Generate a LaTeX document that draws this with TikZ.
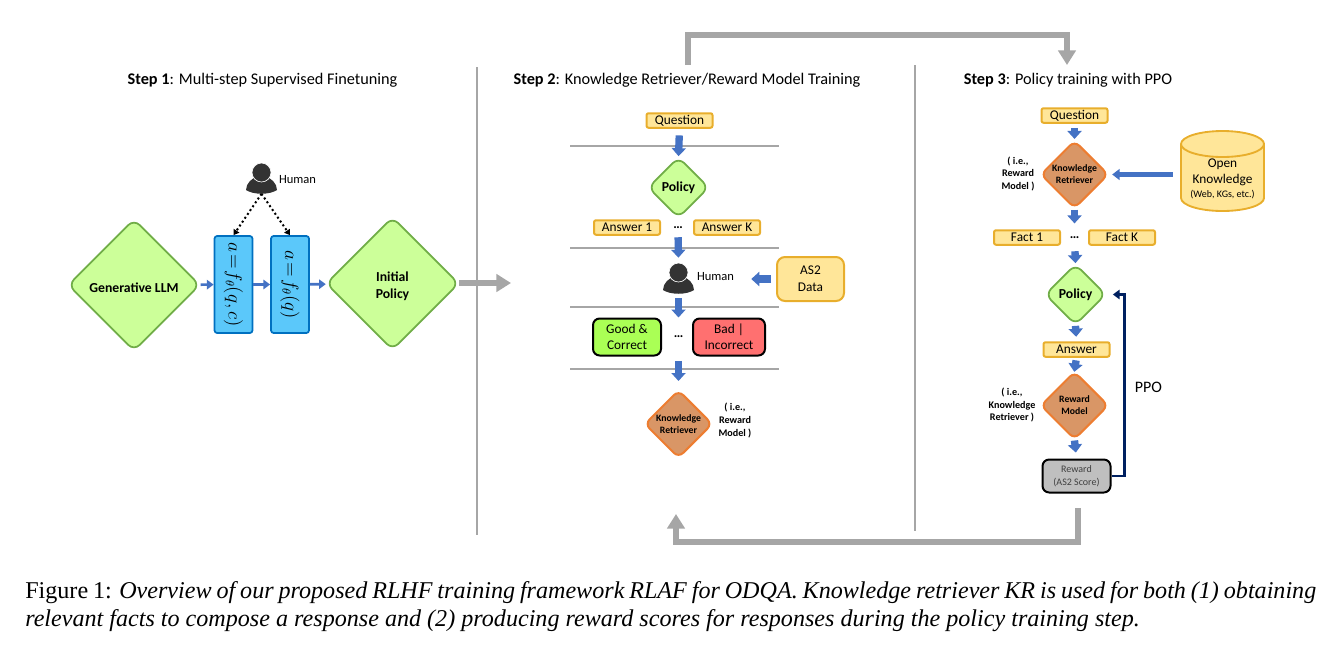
\documentclass[tikz,border=0pt]{standalone}
\usepackage{amsmath}
\usepackage{fontspec}
\setmainfont{Carlito}
\newfontfamily\capfont{Liberation Serif}
\usetikzlibrary{arrows.meta,shapes.geometric}
\def\px{0.75pt}
\definecolor{boxfill}{HTML}{FFE699}
\definecolor{boxline}{HTML}{E8AE2C}
\definecolor{leaffill}{HTML}{CCFF99}
\definecolor{leafline}{HTML}{70AD47}
\definecolor{skyfill}{HTML}{5BC8FA}
\definecolor{skyline}{HTML}{0070C0}
\definecolor{krfill}{HTML}{D99666}
\definecolor{krline}{HTML}{ED7D31}
\definecolor{flow}{HTML}{4472C4}
\definecolor{rule}{HTML}{A6A6A6}
\definecolor{navy}{HTML}{002060}
\definecolor{icon}{HTML}{333333}
\definecolor{goodfill}{HTML}{AAFF55}
\definecolor{badfill}{HTML}{FF7070}
\tikzset{
  x=\px,y=-\px,
  flatbox/.style={draw=boxline,fill=boxfill,line width=1.5pt,rounded corners=1.5pt,minimum width=66*\px,minimum height=14.5*\px,inner sep=0pt,text height=7.5pt,text depth=1.5pt,font=\fontsize{10}{10}\selectfont},
  tallbox/.style={draw=black,line width=1.5pt,rounded corners=5pt,minimum height=37*\px,inner sep=0pt,align=center,font=\fontsize{10}{12}\selectfont},
  leaf/.style={diamond,draw=leafline,fill=leaffill,line width=1.3pt,rounded corners=6pt,inner sep=0pt,align=center,font=\bfseries\fontsize{10.3}{13}\selectfont},
  krnode/.style={diamond,draw=krline,fill=krfill,line width=1.5pt,rounded corners=5pt,minimum width=68*\px,minimum height=68*\px,inner sep=0pt,align=center,font=\bfseries\fontsize{7.3}{9}\selectfont,execute at begin node={\rule{0pt}{8.5pt}}},
  skybox/.style={rotate=-90,draw=skyline,fill=skyfill,line width=1.3pt,rounded corners=2pt,minimum width=97*\px,minimum height=38*\px,inner sep=0pt,font=\fontsize{13.5}{13.5}\selectfont},
  flowstep/.style={draw=flow,line width=5.5pt,-{Triangle[length=6pt,width=10.5pt]}},
  slimstep/.style={draw=flow,line width=3.8pt,-{Triangle[length=5.5pt,width=8pt]}},
  thinflow/.style={draw=flow,line width=2pt,-{Triangle[length=5pt,width=7pt]}},
  dotflow/.style={line width=1.5pt,dotted,-{Triangle[length=4pt,width=5pt]}},
  greyarrow/.style={draw=rule,line width=3.8pt,-{Triangle[length=11pt,width=13pt]}},
  divider/.style={draw=rule,line width=1.5pt},
  note/.style={align=center,inner sep=0pt,font=\bfseries\fontsize{7.6}{9.4}\selectfont},
  dotsmark/.style={inner sep=0pt,font=\bfseries\fontsize{10}{10}\selectfont},
  humanmark/.style={minimum width=32*\px,minimum height=31*\px,inner sep=0pt},
  humanicon/.pic={
    \fill[icon] (-15.5,12) .. controls (-15.5,5) and (-9,0) .. (-5,-1) -- (5,-1) .. controls (9,0) and (15.5,5) .. (15.5,12) .. controls (8,17) and (-8,17) .. (-15.5,12) -- cycle;
    \draw[white,fill=icon,line width=0.5pt] (0,-5.5) circle[radius=9.5];
  },
}
\begin{document}
\begin{tikzpicture}
\useasboundingbox (0,0) rectangle (1338,650);

\node[font=\fontsize{12.2}{12.2}\selectfont] (step1) at (262.5,80) {\textbf{Step 1}: Multi-step Supervised Finetuning};
\node[font=\fontsize{12.2}{12.2}\selectfont] (step2) at (687,80) {\textbf{Step 2}: Knowledge Retriever/Reward Model Training};
\node[font=\fontsize{12.2}{12.2}\selectfont] (step3) at (1068,80) {\textbf{Step 3}: Policy training with PPO};

\draw[divider] (477,67) -- (477,535);
\draw[divider] (915,65) -- (915,531);

\node[leaf,minimum width=132*\px,minimum height=132*\px] (llm) at (134,285) {\rule{0pt}{11pt}Generative LLM};
\node[skybox] (rect1) at (233.5,284.5) {$a\!=\!f_\theta(q,c)$};
\node[skybox] (rect2) at (290,284.5) {$a\!=\!f_\theta(q)$};
\node[leaf,minimum width=133*\px,minimum height=133*\px] (init) at (392.5,283.5) {\rule{0pt}{11pt}Initial\\Policy};
\node[humanmark] (human1) at (261.5,178) {};
\pic at (human1) {humanicon};
\node[font=\fontsize{9.4}{9.4}\selectfont,inner sep=0pt] (humantxt1) at (297.5,180) {Human};
\draw[thinflow] (llm) -- (rect1);
\draw[thinflow] (rect1) -- (rect2);
\draw[thinflow] (rect2) -- (init);
\draw[dotflow] (human1.south) -- (rect1.west);
\draw[dotflow] (human1.south) -- (rect2.west);
\coordinate (g1) at (459,283);
\coordinate (g2) at (511,283);
\draw[greyarrow] (g1) -- (g2);

\coordinate (t1) at (688,65);
\coordinate (t2) at (1067,65);
\draw[greyarrow] (t1) -- ++(0,-30) -| (t2);
\coordinate (b1) at (1078,508);
\coordinate (b2) at (676,514);
\draw[greyarrow] (b1) -- ++(0,34) -| (b2);

\node[flatbox] (q2) at (679.5,120.5) {Question};
\node[leaf,minimum width=61*\px,minimum height=61*\px] (policy2) at (678.5,187.5) {Policy};
\node[flatbox] (ans1) at (627,227.5) {Answer 1};
\node[dotsmark] (adots) at (678,228) {…};
\node[flatbox] (ansk) at (727,227.5) {Answer K};
\node[humanmark] (human2) at (678.5,278) {};
\pic at (human2) {humanicon};
\node[font=\fontsize{9.4}{9.4}\selectfont,inner sep=0pt] (humantxt2) at (715.5,277) {Human};
\node[draw=boxline,fill=boxfill,line width=1.5pt,rounded corners=6pt,minimum width=67*\px,minimum height=44*\px,inner sep=0pt,align=center,font=\fontsize{10}{12.5}\selectfont] (as2) at (810.5,279) {AS2\\Data};
\node[tallbox,fill=goodfill,minimum width=68*\px] (good) at (627,337) {Good \&\\Correct};
\node[dotsmark] (vdots) at (678.5,337) {…};
\node[tallbox,fill=badfill,minimum width=72*\px] (bad) at (729,337) {Bad |\\Incorrect};
\node[krnode] (kr2) at (678.5,424) {Knowledge\\Retriever};
\node[note] (note2) at (735,420.5) {( i.e.,\\Reward\\Model )};
\foreach \ya in {146,248,307,369}
  \draw[divider] (570,\ya) -- (779,\ya);
\draw[flowstep,shorten <=5pt] (q2.south) -- (policy2.north);
\draw[flowstep,shorten <=6pt,shorten >=3.4pt] (adots.south) -- (human2.north);
\draw[flowstep,shorten <=3.4pt] (human2.south) -- (human2.south |- good.north);
\draw[flowstep,shorten <=17pt,shorten >=6pt] (vdots.south) -- (kr2.north);
\draw[flowstep,shorten <=3.75pt,shorten >=12.75pt] (as2.west) -- (as2.west -| humantxt2.east);

\node[flatbox] (q3) at (1074.5,115.5) {Question};
\node[krnode] (kr3) at (1074.5,174.5) {Knowledge\\Retriever};
\node[note] (note3a) at (1018,174) {( i.e.,\\Reward\\Model )};
\node[minimum width=83*\px,minimum height=80*\px,inner sep=0pt] (okb) at (1222.5,171) {};
\fill[boxfill] (1181,144) arc[start angle=180,end angle=360,x radius=41.5,y radius=13] -- (1264,198) arc[start angle=0,end angle=180,x radius=41.5,y radius=13] -- cycle;
\draw[boxline,line width=1.4pt] (1222.5,144) ellipse[x radius=41.5,y radius=13];
\draw[boxline,line width=1.4pt] (1181,144) -- (1181,198) arc[start angle=180,end angle=0,x radius=41.5,y radius=13] -- (1264,144);
\node[align=center,inner sep=0pt,font=\fontsize{10}{12}\selectfont] (okbtxt) at (1222.5,179) {Open\\Knowledge\\[-1pt]{\fontsize{7.5}{9}\selectfont (Web, KGs, etc.)}};
\node[flatbox] (fact1) at (1027,237.5) {Fact 1};
\node[dotsmark] (fdots) at (1074.5,238) {…};
\node[flatbox] (factk) at (1122,237.5) {Fact K};
\node[leaf,minimum width=61*\px,minimum height=61*\px] (policy3) at (1075.5,294.5) {Policy};
\node[flatbox] (ans3) at (1076.5,349.5) {Answer};
\node[krnode] (rm) at (1074.5,405.5) {Reward\\Model};
\node[note] (note3b) at (1012,405) {( i.e.,\\Knowledge\\Retriever )};
\node[draw=black,fill=black!25,line width=1.5pt,rounded corners=5pt,minimum width=68*\px,minimum height=33*\px,inner sep=0pt,align=center,font=\fontsize{7.5}{9.5}\selectfont,text=black!75] (rew) at (1076.5,476) {Reward\\(AS2 Score)};
\node[font=\fontsize{12}{12}\selectfont,inner sep=0pt] (ppo) at (1148.5,387) {PPO};
\draw[flowstep,shorten <=3pt,shorten >=0.4pt] (q3.south) -- (kr3.north);
\draw[flowstep,shorten >=10pt] (kr3.south) -- (fdots.north);
\draw[flowstep,shorten <=9pt] (fdots.south) -- (policy3.north);
\draw[flowstep,shorten >=3.4pt] (policy3.south) -- (ans3.north);
\draw[flowstep,shorten <=2pt,shorten >=-1pt] (ans3.south) -- (rm.north);
\draw[flowstep,shorten >=4.5pt] (rm.south) -- (rew.north);
\draw[slimstep,shorten <=6pt,shorten >=2pt] (okb.west |- kr3) -- (kr3.east);
\draw[draw=navy,line width=1.6pt,-{Triangle[length=5pt,width=7pt]},shorten >=4.5pt] (rew.east) -- ++(13,0) |- (policy3.east);

\node[anchor=north west,text width=1291*\px,align=justify,inner sep=0pt,font=\capfont\fontsize{18.08}{21}\selectfont] (cap) at (25,581.7) {Figure 1: \textit{Overview of our proposed RLHF training framework RLAF for ODQA. Knowledge retriever KR is used for both (1) obtaining relevant facts to compose a response and (2) producing reward scores for responses during the policy training step.}};
\end{tikzpicture}
\end{document}
